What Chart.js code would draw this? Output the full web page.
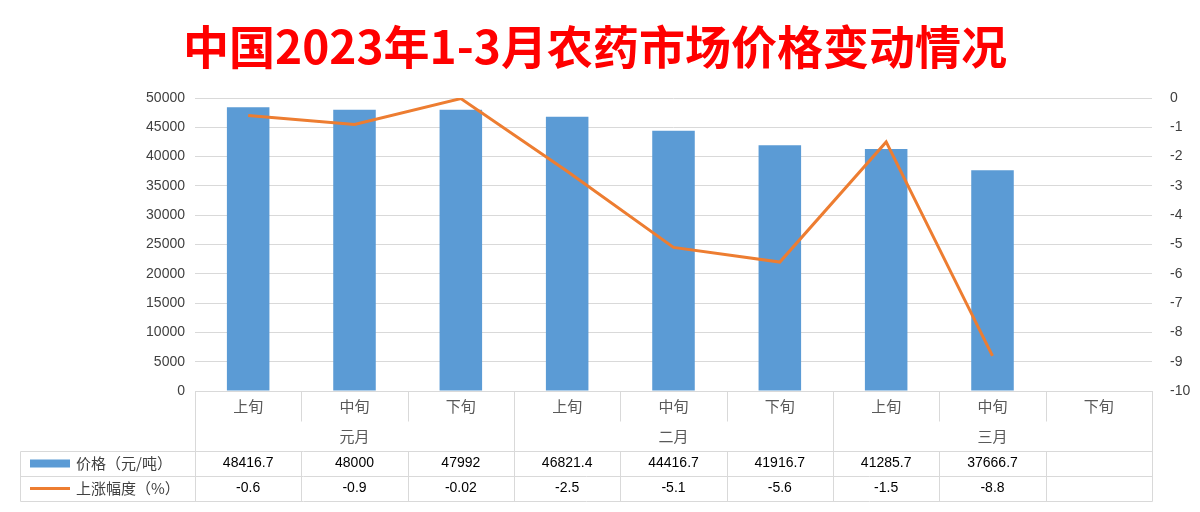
<!DOCTYPE html>
<html><head><meta charset="utf-8">
<script src="https://cdn.jsdelivr.net/npm/chart.js@4"></script>
<style>
html,body{margin:0;padding:0;background:#fff;width:1200px;height:512px;overflow:hidden;font-family:"Noto Sans CJK SC",sans-serif}
#title{position:absolute;left:0;top:16px;width:1190px;text-align:center;color:#ff0000;font-weight:bold;font-size:46px;line-height:56px;font-family:"Noto Sans CJK SC",sans-serif}
#wrap{position:absolute;left:0;top:0;width:1200px;height:512px}
</style></head><body>
<div id="wrap"><canvas id="c" width="1200" height="512"></canvas></div>
<div id="title">中国2023年1-3月农药市场价格变动情况</div>
<script>
const categories=["上旬","中旬","下旬","上旬","中旬","下旬","上旬","中旬","下旬"];
const groups=["元月","二月","三月"];
const priceName="价格（元/吨）";
const changeName="上涨幅度（%）";
const prices=[48416.7,48000,47992,46821.4,44416.7,41916.7,41285.7,37666.7,null];
const changes=[-0.6,-0.9,-0.02,-2.5,-5.1,-5.6,-1.5,-8.8,null];
const priceLabels=["48416.7","48000","47992","46821.4","44416.7","41916.7","41285.7","37666.7",""];
const changeLabels=["-0.6","-0.9","-0.02","-2.5","-5.1","-5.6","-1.5","-8.8",""];
const BLUE="#5B9BD5",ORANGE="#ED7D31",GRID="#d9d9d9",TXT="#404040";
const tablePlugin={id:"tbl",afterDraw(ch){
 const c=ch.ctx,a=ch.chartArea,x=ch.scales.x;
 const n=categories.length,w=(a.right-a.left)/n;
 const y0=a.bottom,y1=y0+30,y2=y1+30,y3=y2+25,y4=y3+25;
 c.save();c.strokeStyle=GRID;c.lineWidth=1;
 const L=(x1,ya,x2,yb)=>{c.beginPath();c.moveTo(x1+.5,ya+.5);c.lineTo(x2+.5,yb+.5);c.stroke();};
 for(let i=0;i<=n;i++){const xx=Math.round(a.left+i*w);L(xx,y0,xx,(i%3==0)?y4:y1);if(i%3!=0)L(xx,y2,xx,y4);}
 L(20,y2,a.right,y2);L(20,y3,a.right,y3);L(20,y4,a.right,y4);L(20,y2,20,y4);
 c.fillStyle="#595959";c.font="15px 'Noto Sans CJK SC'";c.textAlign="center";c.textBaseline="middle";
 for(let i=0;i<n;i++){const cx=x.getPixelForValue(i);c.fillText(categories[i],cx,(y0+y1)/2);
  c.font="14px 'Liberation Sans'";c.fillStyle="#000";c.fillText(priceLabels[i],cx,(y2+y3)/2);c.fillText(changeLabels[i],cx,(y3+y4)/2);
  c.font="15px 'Noto Sans CJK SC'";c.fillStyle="#595959";}
 for(let g=0;g<3;g++){c.fillText(groups[g],a.left+(g*3+1.5)*w,(y1+y2)/2);}
 c.fillStyle=BLUE;c.fillRect(30,(y2+y3)/2-4,40,8);
 c.strokeStyle=ORANGE;c.lineWidth=3;c.beginPath();c.moveTo(30,(y3+y4)/2);c.lineTo(70,(y3+y4)/2);c.stroke();
 c.fillStyle="#404040";c.textAlign="left";c.font="15px 'Noto Sans CJK SC'";
 c.fillText(priceName,76,(y2+y3)/2);c.fillText(changeName,76,(y3+y4)/2);
 c.restore();}};
new Chart(document.getElementById("c"),{
 data:{labels:categories,datasets:[
  {type:"line",data:changes,yAxisID:"y2",borderColor:ORANGE,borderWidth:3,pointRadius:0,order:0,spanGaps:false},
  {type:"bar",data:prices,yAxisID:"y",backgroundColor:BLUE,barPercentage:0.4,categoryPercentage:1,order:1}]},
 options:{responsive:false,animation:false,
  layout:{padding:{top:98,bottom:113,left:0,right:0}},
  plugins:{legend:{display:false},tooltip:{enabled:false}},
  scales:{
   x:{grid:{display:false},border:{color:GRID},ticks:{display:false}},
   y:{position:"left",min:0,max:50000,ticks:{stepSize:5000,color:TXT,font:{size:14,family:"Liberation Sans"},padding:10,callback:v=>String(v)},
      grid:{color:GRID,drawTicks:false},border:{display:false},afterFit(s){s.width=195;}},
   y2:{position:"right",min:-10,max:0,ticks:{stepSize:1,color:TXT,font:{size:14,family:"Liberation Sans"},padding:10,callback:v=>String(v)},
      grid:{display:false},border:{display:false},afterFit(s){s.width=48;}}
  }},
 plugins:[tablePlugin]});
</script></body></html>
